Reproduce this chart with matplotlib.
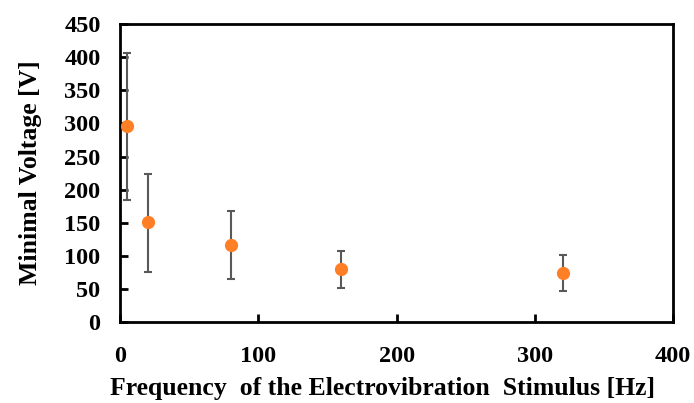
import matplotlib
matplotlib.use('Agg')
import numpy as np
import matplotlib.pyplot as plt

plt.rcParams['font.family'] = ['Liberation Serif', 'DejaVu Serif']
plt.rcParams['font.weight'] = 'bold'

# 读取的数据
freq = [5, 20, 80, 160, 320]
voltage = [296, 151, 116, 80, 74]
err_low = [185, 76, 65, 51, 47]
err_high = [407, 224, 167, 108, 101]

v = np.array(voltage)
yerr = [v - np.array(err_low), np.array(err_high) - v]

fig = plt.figure(figsize=(6.94, 4.03), dpi=100)
ax = fig.add_axes([0.173, 0.201, 0.797, 0.739])

ax.errorbar(freq, voltage, yerr=yerr, fmt='none', ecolor='#595959',
            elinewidth=1.5, capsize=3.2, capthick=1.5, zorder=2)
ax.plot(freq, voltage, 'o', color='#FF7F27', markersize=8.5, zorder=3)

ax.set_xlim(0, 400)
ax.set_ylim(0, 450)
ax.set_xticks([0, 100, 200, 300, 400])
ax.set_yticks(np.arange(0, 451, 50))

for s in ax.spines.values():
    s.set_linewidth(2)
ax.tick_params(axis='both', direction='in', width=2, length=6, labelsize=17.5)
ax.tick_params(axis='x', pad=17)
ax.tick_params(axis='y', pad=14)

ax.set_xlabel('Frequency  of the Electrovibration  Stimulus [Hz]',
              fontsize=18.5, fontweight='bold')
ax.set_ylabel('Minimal Voltage [V]', fontsize=18.5, fontweight='bold')
ax.xaxis.set_label_coords(0.474, -0.185)
ax.yaxis.set_label_coords(-0.142, 0.5)

fig.savefig('out.png', dpi=100)
